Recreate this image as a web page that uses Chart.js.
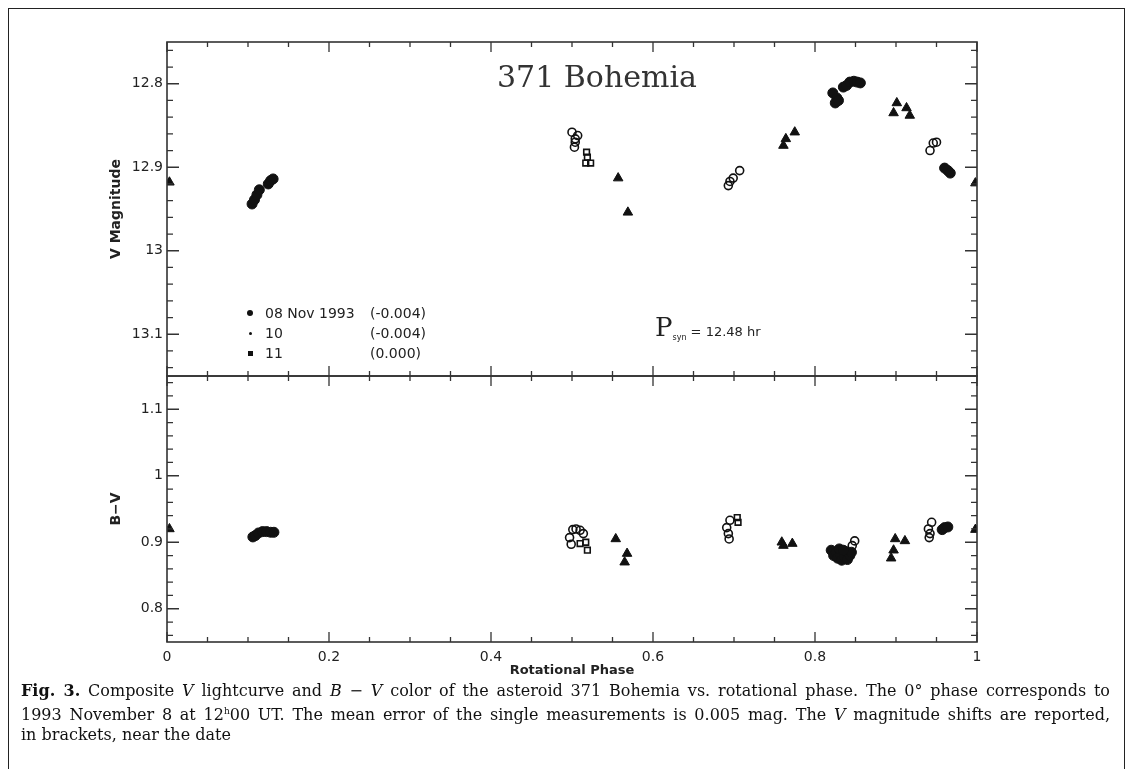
<!DOCTYPE html>
<html>
<head>
<meta charset="utf-8">
<script src="https://cdn.jsdelivr.net/npm/chart.js@4.4.1/dist/chart.umd.min.js"></script>
<style>
  body { margin: 0; background: #fff; width: 1133px; height: 769px; overflow: hidden; position: relative;
         font-family: "DejaVu Sans", sans-serif; color: #1a1a1a; }
  #frame { position: absolute; left: 8px; top: 8px; width: 1117px; height: 800px; border: 1.5px solid #222;
           border-bottom: none; box-sizing: border-box; }
  canvas { position: absolute; left: 0; }
  #cTop { top: 0; }
  #cBot { top: 350px; }
  .txt { position: absolute; white-space: nowrap; }
  #title { left: 497px; top: 62px; font: 30px "DejaVu Serif", serif; line-height: 30px; color: #333; }
  .leg { position: absolute; font-size: 14px; line-height: 16px; color: #222; }
  .mk { position: absolute; background: #111; }
  #psyn { left: 655px; top: 312px; color: #222; }
  #caption { position: absolute; left: 21px; top: 681px; width: 1089px; font: 16px "DejaVu Serif", serif;
             line-height: 20px; color: #111; }
  #caption div { white-space: nowrap; text-align: justify; text-align-last: justify; }
  #caption div.last { text-align-last: left; }
</style>
</head>
<body>
<div id="frame"></div>
<canvas id="cTop" width="1133" height="400"></canvas>
<canvas id="cBot" width="1133" height="350"></canvas>

<div class="txt" id="title">371 Bohemia</div>

<div class="mk" style="left:247px;top:310px;width:6px;height:6px;border-radius:3px;"></div>
<div class="mk" style="left:249px;top:332px;width:3px;height:3px;border-radius:2px;"></div>
<div class="mk" style="left:248px;top:351px;width:5px;height:5px;"></div>
<div class="leg" style="left:265px;top:305px;">08 Nov 1993</div>
<div class="leg" style="left:265px;top:325px;">10</div>
<div class="leg" style="left:265px;top:345px;">11</div>
<div class="leg" style="left:370px;top:305px;">(-0.004)</div>
<div class="leg" style="left:370px;top:325px;">(-0.004)</div>
<div class="leg" style="left:370px;top:345px;">(0.000)</div>

<div class="txt" id="psyn"><span style="font:26px 'DejaVu Serif',serif;">P</span><span style="font-size:8px;position:relative;top:4px;">syn</span><span style="font-size:13px;"> = 12.48 hr</span></div>

<div id="caption">
  <div><b>Fig. 3.</b> Composite <i>V</i> lightcurve and <i>B</i> − <i>V</i> color of the asteroid 371 Bohemia vs. rotational phase. The 0° phase corresponds to</div>
  <div>1993 November 8 at 12<sup style="font-size:9px;">h</sup>00 UT. The mean error of the single measurements is 0.005 mag. The <i>V</i> magnitude shifts are reported,</div>
  <div class="last">in brackets, near the date</div>
</div>

<script>
// tick labels
const xTicks = [0, 0.2, 0.4, 0.6, 0.8, 1];
const vTicks = [12.8, 12.9, 13, 13.1];
const bvTicks = [0.8, 0.9, 1, 1.1];

// V lightcurve, filled triangles
const vTriPhase = [0.003, 0.557, 0.569, 0.761, 0.764, 0.775, 0.897, 0.901, 0.913, 0.917, 0.998];
const vTriMag   = [12.918, 12.913, 12.954, 12.874, 12.866, 12.858, 12.835, 12.823, 12.829, 12.838, 12.919];
// V lightcurve, filled circles
const vDotPhase = [0.105, 0.108, 0.111, 0.114, 0.125, 0.128, 0.131, 0.822, 0.825, 0.827, 0.829,
                   0.835, 0.839, 0.843, 0.848, 0.852, 0.856, 0.960, 0.964, 0.967];
const vDotMag   = [12.944, 12.939, 12.933, 12.927, 12.920, 12.916, 12.914, 12.811, 12.823, 12.817, 12.820,
                   12.804, 12.802, 12.798, 12.797, 12.798, 12.799, 12.901, 12.904, 12.907];
// V lightcurve, open circles
const vRingPhase = [0.500, 0.504, 0.507, 0.504, 0.503, 0.693, 0.695, 0.699, 0.707, 0.942, 0.946, 0.950];
const vRingMag   = [12.858, 12.866, 12.862, 12.870, 12.876, 12.922, 12.917, 12.913, 12.904, 12.880, 12.871, 12.870];
// V lightcurve, open squares
const vBoxPhase = [0.518, 0.519, 0.517, 0.523];
const vBoxMag   = [12.882, 12.888, 12.895, 12.895];

// B-V colour
const bvTriPhase = [0.003, 0.554, 0.565, 0.568, 0.759, 0.761, 0.772, 0.894, 0.897, 0.899, 0.911, 0.998];
const bvTriVal   = [0.920, 0.905, 0.870, 0.883, 0.900, 0.895, 0.898, 0.876, 0.888, 0.905, 0.902, 0.919];
const bvDotPhase = [0.106, 0.109, 0.113, 0.118, 0.123, 0.128, 0.132, 0.820, 0.823, 0.826, 0.828, 0.831,
                    0.833, 0.836, 0.838, 0.840, 0.843, 0.845, 0.830, 0.835, 0.957, 0.960, 0.964];
const bvDotVal   = [0.908, 0.910, 0.914, 0.916, 0.916, 0.915, 0.915, 0.888, 0.880, 0.885, 0.876, 0.882,
                    0.873, 0.879, 0.886, 0.874, 0.880, 0.885, 0.890, 0.888, 0.919, 0.922, 0.923];
const bvRingPhase = [0.497, 0.499, 0.501, 0.505, 0.510, 0.514, 0.691, 0.693, 0.694, 0.695, 0.846, 0.849,
                     0.940, 0.941, 0.942, 0.944];
const bvRingVal   = [0.907, 0.897, 0.919, 0.920, 0.918, 0.913, 0.922, 0.913, 0.905, 0.933, 0.895, 0.902,
                     0.920, 0.907, 0.913, 0.930];
const bvBoxPhase = [0.510, 0.517, 0.519, 0.704, 0.705];
const bvBoxVal   = [0.898, 0.900, 0.888, 0.937, 0.930];

const pts = (xs, ys) => xs.map((x, i) => ({ x: x, y: ys[i] }));
const ink = '#111';

function sets(tri, dot, ring, box) {
    return [
        { data: tri, pointStyle: 'triangle', pointRadius: 5.5, backgroundColor: ink, borderColor: ink, borderWidth: 1 },
        { data: dot, pointStyle: 'circle', pointRadius: 5, backgroundColor: ink, borderColor: ink, borderWidth: 1 },
        { data: ring, pointStyle: 'circle', pointRadius: 4, backgroundColor: 'rgba(255,255,255,0)', borderColor: ink, borderWidth: 1.6 },
        { data: box, pointStyle: 'rect', pointRadius: 4, backgroundColor: 'rgba(255,255,255,0)', borderColor: ink, borderWidth: 1.6 }
    ];
}

// frame with inward ticks on every side
const frameTicks = {
    id: 'frameTicks',
    afterDraw(chart, args, o) {
        const { ctx, chartArea: a } = chart;
        const xs = chart.scales.x, ys = chart.scales.y;
        ctx.save();
        ctx.strokeStyle = '#333';
        ctx.lineWidth = 1.6;
        ctx.strokeRect(a.left, a.top, a.right - a.left, a.bottom - a.top);
        ctx.lineWidth = 1.3;
        ctx.beginPath();
        for (let i = 0; i <= 20; i++) {
            const px = xs.getPixelForValue(i * 0.05);
            const len = i % 4 === 0 ? 10 : 5;
            ctx.moveTo(px, a.top); ctx.lineTo(px, a.top + len);
            ctx.moveTo(px, a.bottom); ctx.lineTo(px, a.bottom - len);
        }
        const k0 = Math.ceil(o.min / 0.02 - 1e-6), k1 = Math.floor(o.max / 0.02 + 1e-6);
        for (let k = k0; k <= k1; k++) {
            const py = ys.getPixelForValue(k * 0.02);
            const len = k % 5 === 0 ? 12 : 6;
            ctx.moveTo(a.left, py); ctx.lineTo(a.left + len, py);
            ctx.moveTo(a.right, py); ctx.lineTo(a.right - len, py);
        }
        ctx.stroke();
        ctx.restore();
    }
};

const tickFont = { family: 'DejaVu Sans', size: 14 };
const titleFont = { family: 'DejaVu Sans', size: 13, weight: 'bold' };

new Chart(document.getElementById('cTop'), {
    type: 'scatter',
    data: { datasets: sets(pts(vTriPhase, vTriMag), pts(vDotPhase, vDotMag), pts(vRingPhase, vRingMag), pts(vBoxPhase, vBoxMag)) },
    options: {
        responsive: false,
        animation: false,
        layout: { padding: { left: 100, right: 156, top: 42, bottom: 24 } },
        plugins: { legend: { display: false }, tooltip: { enabled: false }, frameTicks: { min: 12.75, max: 13.15 } },
        scales: {
            x: { type: 'linear', min: 0, max: 1, display: false },
            y: {
                type: 'linear', min: 12.75, max: 13.15, reverse: true,
                afterBuildTicks: s => { s.ticks = vTicks.map(v => ({ value: v })); },
                afterFit: s => { s.width = 67; },
                grid: { display: false, drawTicks: false },
                border: { display: false },
                ticks: { font: tickFont, color: '#222', padding: 4, callback: v => String(v) },
                title: { display: true, text: 'V Magnitude', font: { family: 'DejaVu Sans', size: 14, weight: 'bold' }, color: '#222', padding: { top: 8 } }
            }
        }
    },
    plugins: [frameTicks]
});

new Chart(document.getElementById('cBot'), {
    type: 'scatter',
    data: { datasets: sets(pts(bvTriPhase, bvTriVal), pts(bvDotPhase, bvDotVal), pts(bvRingPhase, bvRingVal), pts(bvBoxPhase, bvBoxVal)) },
    options: {
        responsive: false,
        animation: false,
        layout: { padding: { left: 100, right: 156, top: 26, bottom: 18 } },
        plugins: { legend: { display: false }, tooltip: { enabled: false }, frameTicks: { min: 0.75, max: 1.15 } },
        scales: {
            x: {
                type: 'linear', min: 0, max: 1,
                afterBuildTicks: s => { s.ticks = xTicks.map(v => ({ value: v })); },
                afterFit: s => { s.height = 40; },
                grid: { display: false, drawTicks: false },
                border: { display: false },
                ticks: { font: tickFont, color: '#222', padding: 7, maxRotation: 0, callback: v => String(v) },
                title: { display: true, text: 'Rotational Phase', font: titleFont, color: '#222', padding: { bottom: 4 } }
            },
            y: {
                type: 'linear', min: 0.75, max: 1.15,
                afterBuildTicks: s => { s.ticks = bvTicks.map(v => ({ value: v })); },
                afterFit: s => { s.width = 67; },
                grid: { display: false, drawTicks: false },
                border: { display: false },
                ticks: { font: tickFont, color: '#222', padding: 4, callback: v => String(v) },
                title: { display: true, text: 'B−V', font: { family: 'DejaVu Sans', size: 14, weight: 'bold' }, color: '#222', padding: { top: 8 } }
            }
        }
    },
    plugins: [frameTicks]
});
</script>
</body>
</html>
